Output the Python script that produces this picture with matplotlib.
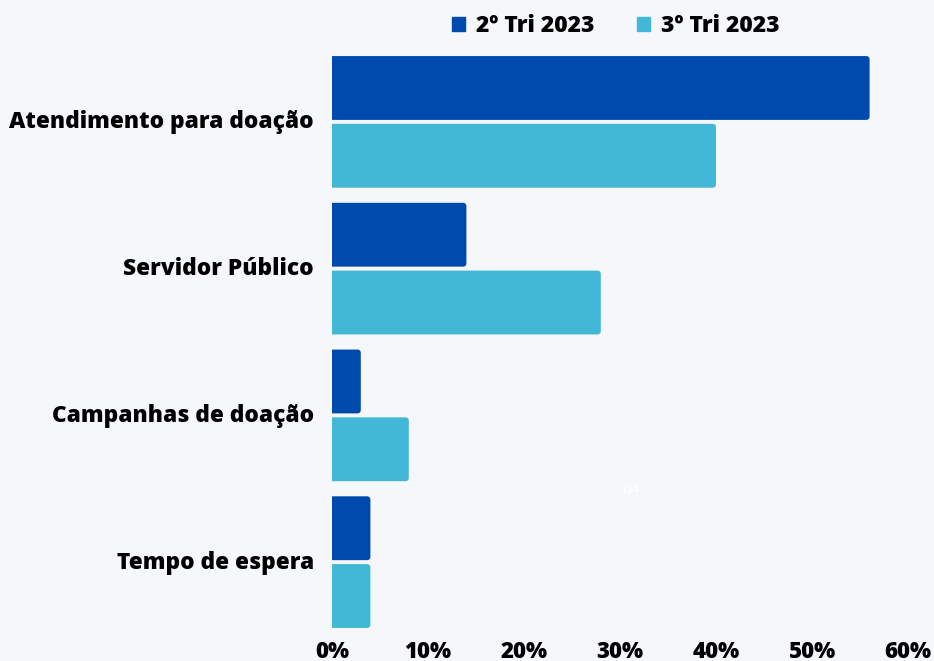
import matplotlib
matplotlib.use("Agg")
import matplotlib.pyplot as plt
from matplotlib.patches import FancyBboxPatch
import matplotlib.transforms as mtransforms
import numpy as np

categories = ["Atendimento para doação", "Servidor Público", "Campanhas de doação", "Tempo de espera"]
series_names = ["2º Tri 2023", "3º Tri 2023"]
q2_values = [56, 14, 3, 4]
q3_values = [40, 28, 8, 4]
x_ticks = [0, 10, 20, 30, 40, 50, 60]
x_tick_labels = ["0%", "10%", "20%", "30%", "40%", "50%", "60%"]

bg = "#F5F7FB"
c_dark = "#004AAD"
c_light = "#42B8D6"

plt.rcParams['font.family'] = ['Open Sans', 'DejaVu Sans']
W = 800

fig = plt.figure(figsize=(9.34, 6.61), dpi=100, facecolor=bg)
ax = fig.add_axes([332/934, 1-635.5/661, (908-332)/934, (635.5-48.5)/661])
ax.set_facecolor(bg)

y = np.arange(len(categories))
h = 0.435
off = 0.231
b1 = ax.barh(y - off, q2_values, height=h, color=c_dark, label=series_names[0])
b2 = ax.barh(y + off, q3_values, height=h, color=c_light, label=series_names[1])

ax.set_xlim(0, 60)
ax.set_ylim(3.5, -0.5)

# rounded right corners
px_x = (908 - 332) / 60.0
px_y = 147.0
r = 3.5 / px_x
aspect = (3.5 / px_y) / r
for bars, col in ((b1, c_dark), (b2, c_light)):
    for bar in bars:
        x0, y0 = bar.get_x(), bar.get_y()
        w, hh = bar.get_width(), bar.get_height()
        p = FancyBboxPatch((x0 - 2, y0), w + 2, hh,
                           boxstyle=f"round,pad=0,rounding_size={r}",
                           mutation_aspect=aspect, facecolor=col, edgecolor='none')
        ax.add_patch(p)
        bar.set_visible(False)

ax.set_xticks(x_ticks)
ax.set_xticklabels(x_tick_labels, fontsize=16, fontweight=W)
ax.set_yticks(y)
ax.set_yticklabels(categories, fontsize=16.3, fontweight=W)
ax.tick_params(axis='both', length=0)
ax.tick_params(axis='x', pad=3)
ax.tick_params(axis='y', pad=13)
shift = mtransforms.ScaledTranslation(0, 2.5/100, fig.dpi_scale_trans)
for lab in ax.get_yticklabels():
    lab.set_transform(lab.get_transform() + shift)
for s in ax.spines.values():
    s.set_visible(False)

handles = [plt.Rectangle((0, 0), 1, 1, color=c_dark), plt.Rectangle((0, 0), 1, 1, color=c_light)]
leg = fig.legend(handles, series_names, loc='center', bbox_to_anchor=(616/934, 1-26/661), ncol=2,
                 frameon=False, prop={'weight': W, 'size': 16.5}, handlelength=0.55,
                 handleheight=0.55, handletextpad=0.5, columnspacing=1.85)

fig.text(631/934, 1-491/661, "04", color="white", fontsize=11, ha='center', va='center')

fig.savefig("out.png", dpi=100, facecolor=bg)
